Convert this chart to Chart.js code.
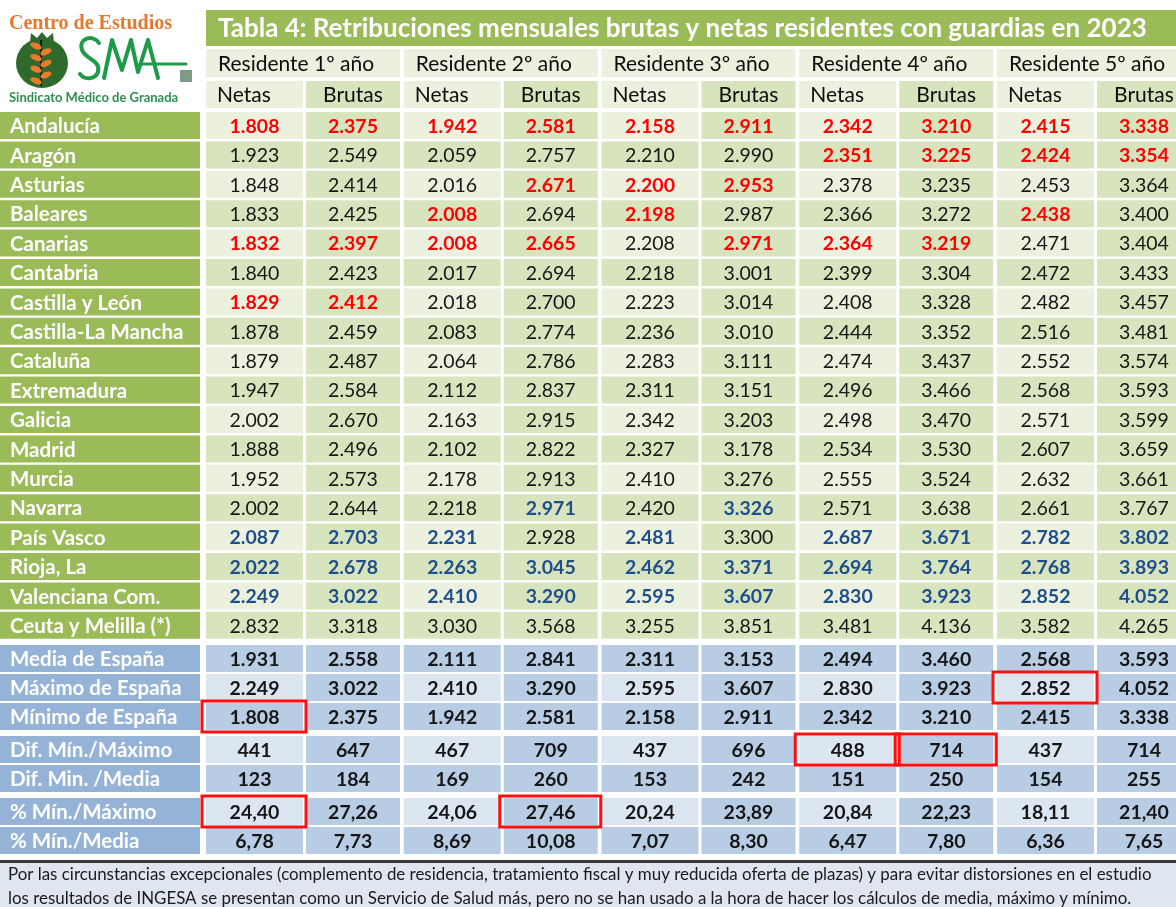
<!DOCTYPE html>
<html lang="es">
<head>
<meta charset="utf-8">
<title>Tabla 4: Retribuciones mensuales residentes 2023</title>
<script src="https://cdn.jsdelivr.net/npm/chart.js@4.4.1/dist/chart.umd.min.js"></script>
<style>
  html, body { margin: 0; padding: 0; background: #fff; }
  #tabla { display: block; }
</style>
</head>
<body>
<canvas id="tabla" width="1176" height="907"></canvas>
<script>
const titulo = 'Tabla 4: Retribuciones mensuales brutas y netas residentes con guardias en 2023';
const anios = ['Residente 1º año', 'Residente 2º año', 'Residente 3º año', 'Residente 4º año', 'Residente 5º año'];
const tipos = ['Netas', 'Brutas'];
const regiones = ['Andalucía', 'Aragón', 'Asturias', 'Baleares', 'Canarias', 'Cantabria', 'Castilla y León',
  'Castilla-La Mancha', 'Cataluña', 'Extremadura', 'Galicia', 'Madrid', 'Murcia', 'Navarra', 'País Vasco',
  'Rioja, La', 'Valenciana Com.', 'Ceuta y Melilla (*)'];

const r1Netas  = [1808, 1923, 1848, 1833, 1832, 1840, 1829, 1878, 1879, 1947, 2002, 1888, 1952, 2002, 2087, 2022, 2249, 2832];
const r1Brutas = [2375, 2549, 2414, 2425, 2397, 2423, 2412, 2459, 2487, 2584, 2670, 2496, 2573, 2644, 2703, 2678, 3022, 3318];
const r2Netas  = [1942, 2059, 2016, 2008, 2008, 2017, 2018, 2083, 2064, 2112, 2163, 2102, 2178, 2218, 2231, 2263, 2410, 3030];
const r2Brutas = [2581, 2757, 2671, 2694, 2665, 2694, 2700, 2774, 2786, 2837, 2915, 2822, 2913, 2971, 2928, 3045, 3290, 3568];
const r3Netas  = [2158, 2210, 2200, 2198, 2208, 2218, 2223, 2236, 2283, 2311, 2342, 2327, 2410, 2420, 2481, 2462, 2595, 3255];
const r3Brutas = [2911, 2990, 2953, 2987, 2971, 3001, 3014, 3010, 3111, 3151, 3203, 3178, 3276, 3326, 3300, 3371, 3607, 3851];
const r4Netas  = [2342, 2351, 2378, 2366, 2364, 2399, 2408, 2444, 2474, 2496, 2498, 2534, 2555, 2571, 2687, 2694, 2830, 3481];
const r4Brutas = [3210, 3225, 3235, 3272, 3219, 3304, 3328, 3352, 3437, 3466, 3470, 3530, 3524, 3638, 3671, 3764, 3923, 4136];
const r5Netas  = [2415, 2424, 2453, 2438, 2471, 2472, 2482, 2516, 2552, 2568, 2571, 2607, 2632, 2661, 2782, 2768, 2852, 3582];
const r5Brutas = [3338, 3354, 3364, 3400, 3404, 3433, 3457, 3481, 3574, 3593, 3599, 3659, 3661, 3767, 3802, 3893, 4052, 4265];

const resumenEtiquetas = ['Media de España', 'Máximo de España', 'Mínimo de España', 'Dif. Mín./Máximo',
  'Dif. Min. /Media', '% Mín./Máximo', '% Mín./Media'];
const mediaEspana  = [1931, 2558, 2111, 2841, 2311, 3153, 2494, 3460, 2568, 3593];
const maximoEspana = [2249, 3022, 2410, 3290, 2595, 3607, 2830, 3923, 2852, 4052];
const minimoEspana = [1808, 2375, 1942, 2581, 2158, 2911, 2342, 3210, 2415, 3338];
const difMinMax    = [441, 647, 467, 709, 437, 696, 488, 714, 437, 714];
const difMinMedia  = [123, 184, 169, 260, 153, 242, 151, 250, 154, 255];
const pctMinMax    = [24.40, 27.26, 24.06, 27.46, 20.24, 23.89, 20.84, 22.23, 18.11, 21.40];
const pctMinMedia  = [6.78, 7.73, 8.69, 10.08, 7.07, 8.30, 6.47, 7.80, 6.36, 7.65];

// celdas marcadas en rojo (minimos) y azul (maximos), indice de region por columna
const marcasRojas = [[0, 4, 6], [0, 4, 6], [0, 3, 4], [0, 2, 4], [0, 2, 3], [0, 2, 4], [0, 1, 4], [0, 1, 4], [0, 1, 3], [0, 1]];
const marcasAzules = [[14, 15, 16], [14, 15, 16], [14, 15, 16], [13, 15, 16], [14, 15, 16], [13, 15, 16], [14, 15, 16], [14, 15, 16], [14, 15, 16], [14, 15, 16]];
// recuadros rojos: [fila del resumen, columna]
const recuadros = [[2, 0], [5, 0], [5, 3], [1, 8], [3, 6], [3, 7]];

const nota = [
  'Por las circunstancias excepcionales (complemento de residencia, tratamiento fiscal y muy reducida oferta de plazas) y para evitar distorsiones en el estudio',
  'los resultados de INGESA se presentan como un Servicio de Salud más, pero no se han usado a la hora de hacer los cálculos de media, máximo y mínimo.'
];

const columnas = [r1Netas, r1Brutas, r2Netas, r2Brutas, r3Netas, r3Brutas, r4Netas, r4Brutas, r5Netas, r5Brutas];
const resumen = [mediaEspana, maximoEspana, minimoEspana, difMinMax, difMinMedia, pctMinMax, pctMinMedia];

// --- maqueta ---
const W = 1176, H = 907;
const FAM = 'Lato, "Open Sans", "DejaVu Sans", sans-serif';
const VERDE = '#9bbb59', VERDE_CLARO = '#ebf1de', VERDE_MEDIO = '#d7e4bd';
const AZUL = '#95b3d7', AZUL_CLARO = '#dce6f1', AZUL_MEDIO = '#b8cce4';
const ROJO = '#ff0000', AZUL_TEXTO = '#1f4e8c', NEGRO = '#161616';

const RANGO_ETIQUETA = [0, 200];
const RANGO_TITULO = [206, 1176];
const RANGO_NOTA = [0, 1176];
const FILA_TITULO = [10, 46], FILA_ANIO = [49, 77], FILA_TIPO = [81, 108];
const LINEA_NOTA = [860, 863], FILA_NOTA = [863, 907];

function rangoColumna(k) {
  const s = 206 + 197.75 * Math.floor(k / 2);
  return k % 2 ? [s + 100, s + 194] : [s, s + 97];
}
function rangoGrupo(g) {
  const s = 206 + 197.75 * g;
  return [s, s + 194];
}
function filaRegion(i) {
  const t = 112 + 29.4 * i;
  return [t, t + 27];
}
function filaResumen(i) {
  const t = 645 + 29 * i + (i > 2 ? 4 : 0) + (i > 4 ? 4 : 0);
  return [t, t + 27];
}
function celda(xr, yr) {
  return { x: (xr[0] + xr[1]) / 2, y: [yr[0], yr[1]] };
}
function fmtMiles(v) {
  return String(v).replace(/\B(?=(\d{3})+(?!\d))/g, '.');
}
function fmtPct(v) {
  return v.toFixed(2).replace('.', ',');
}

function serie(xr, props) {
  return Object.assign({
    type: 'bar',
    grouped: false,
    barThickness: xr[1] - xr[0],
    borderWidth: 0,
    borderSkipped: false,
    inflateAmount: 0
  }, props);
}

const datasets = [];

datasets.push(serie(RANGO_TITULO, {
  label: 'titulo',
  data: [celda(RANGO_TITULO, FILA_TITULO)],
  backgroundColor: VERDE,
  textos: [titulo], fuentes: ['bold 26px ' + FAM], colores: ['#ffffff'], alineaciones: ['left'], margen: 12
}));

datasets.push(serie(rangoGrupo(0), {
  label: 'anios',
  data: anios.map((a, g) => celda(rangoGrupo(g), FILA_ANIO)),
  backgroundColor: VERDE_CLARO,
  textos: anios,
  fuentes: anios.map(() => '21px ' + FAM),
  colores: anios.map(() => '#0d0d0d'),
  alineaciones: anios.map(() => 'left'), margen: 12
}));

const etiquetas = regiones.concat(resumenEtiquetas);
datasets.push(serie(RANGO_ETIQUETA, {
  label: 'etiquetas',
  data: regiones.map((r, i) => celda(RANGO_ETIQUETA, filaRegion(i)))
    .concat(resumenEtiquetas.map((r, i) => celda(RANGO_ETIQUETA, filaResumen(i)))),
  backgroundColor: etiquetas.map((e, i) => i < regiones.length ? VERDE : AZUL),
  textos: etiquetas,
  fuentes: etiquetas.map(() => 'bold 20.5px ' + FAM),
  colores: etiquetas.map(() => '#ffffff'),
  alineaciones: etiquetas.map(() => 'left'), margen: 10
}));

columnas.forEach((vals, k) => {
  const xr = rangoColumna(k);
  const netas = k % 2 === 0;
  const data = [celda(xr, FILA_TIPO)];
  const fondos = [netas ? VERDE_CLARO : VERDE_MEDIO];
  const textos = [tipos[k % 2]];
  const fuentes = ['21px ' + FAM];
  const colores = ['#0d0d0d'];
  const alineaciones = [netas ? 'left' : 'center'];
  vals.forEach((v, i) => {
    const rojo = marcasRojas[k].includes(i);
    const azul = marcasAzules[k].includes(i);
    data.push(celda(xr, filaRegion(i)));
    fondos.push(netas && i % 2 === 0 ? VERDE_CLARO : VERDE_MEDIO);
    textos.push(fmtMiles(v));
    fuentes.push((rojo || azul ? 'bold ' : '') + '19.5px ' + FAM);
    colores.push(rojo ? ROJO : azul ? AZUL_TEXTO : NEGRO);
    alineaciones.push('center');
  });
  resumen.forEach((fila, i) => {
    data.push(celda(xr, filaResumen(i)));
    fondos.push(netas && i % 2 === 1 ? AZUL_CLARO : AZUL_MEDIO);
    textos.push(i >= 5 ? fmtPct(fila[k]) : fmtMiles(fila[k]));
    fuentes.push('bold 19.5px ' + FAM);
    colores.push(NEGRO);
    alineaciones.push('center');
  });
  datasets.push(serie(xr, {
    label: anios[Math.floor(k / 2)] + ' ' + tipos[k % 2],
    data, backgroundColor: fondos,
    textos, fuentes, colores, alineaciones, margen: 11, columna: k
  }));
});

datasets.push(serie(RANGO_NOTA, {
  label: 'linea',
  data: [celda(RANGO_NOTA, LINEA_NOTA)],
  backgroundColor: '#3a3a3a'
}));
datasets.push(serie(RANGO_NOTA, {
  label: 'nota',
  data: [celda(RANGO_NOTA, FILA_NOTA)],
  backgroundColor: '#dfe6ef',
  textos: [nota], fuentes: ['16.9px ' + FAM], colores: ['#1a1a1a'], alineaciones: ['left'], margen: 8,
  interlinea: 24, desplazY: 1, anchoMax: 1146
}));

// --- plugins de dibujo ---
const logoPlugin = {
  id: 'logo',
  beforeDatasetsDraw(chart) {
    const ctx = chart.ctx;
    ctx.save();
    ctx.fillStyle = '#e8782e';
    ctx.font = 'bold 20px "Liberation Serif", "DejaVu Serif", serif';
    ctx.textBaseline = 'alphabetic';
    ctx.fillText('Centro de Estudios', 9, 29, 187);

    // granada
    ctx.fillStyle = '#2f6a2c';
    ctx.beginPath();
    ctx.ellipse(42, 63, 26, 25, 0, 0, Math.PI * 2);
    ctx.fill();
    ctx.beginPath();
    ctx.moveTo(30, 43); ctx.lineTo(31, 33); ctx.lineTo(37, 38); ctx.lineTo(42, 32);
    ctx.lineTo(47, 38); ctx.lineTo(53, 33); ctx.lineTo(54, 43);
    ctx.closePath();
    ctx.fill();
    ctx.strokeStyle = '#1a1a1a';
    ctx.lineWidth = 2;
    ctx.beginPath(); ctx.moveTo(41, 40); ctx.lineTo(41, 86); ctx.stroke();
    ctx.fillStyle = '#ec7a2c';
    for (let i = 0; i < 7; i++) {
      const yy = 46 + i * 5.8;
      const xx = 41 + (i % 2 ? 5 : -5);
      ctx.beginPath();
      ctx.ellipse(xx, yy, 6, 3, i % 2 ? -0.4 : 0.4, 0, Math.PI * 2);
      ctx.fill();
    }

    // SMA
    ctx.strokeStyle = '#1f9a48';
    ctx.lineWidth = 4;
    ctx.lineJoin = 'round';
    ctx.lineCap = 'round';
    ctx.beginPath();
    ctx.moveTo(99, 43);
    ctx.bezierCurveTo(93, 34, 78, 38, 82, 50);
    ctx.bezierCurveTo(86, 60, 101, 60, 98, 72);
    ctx.bezierCurveTo(95, 80, 84, 80, 80, 74);
    ctx.stroke();
    ctx.beginPath();
    ctx.moveTo(104, 78); ctx.lineTo(112, 40); ctx.lineTo(122, 70); ctx.lineTo(131, 40);
    ctx.lineTo(138, 72); ctx.lineTo(148, 40); ctx.lineTo(158, 78);
    ctx.stroke();
    ctx.lineWidth = 3;
    ctx.beginPath(); ctx.moveTo(142, 64); ctx.lineTo(186, 64); ctx.stroke();
    ctx.fillStyle = '#7f9a86';
    ctx.fillRect(180, 70, 12, 12);

    ctx.fillStyle = '#2f8f50';
    ctx.font = 'bold 13px ' + FAM;
    ctx.fillText('Sindicato Médico de Granada', 9, 102, 187);
    ctx.restore();
  }
};

function cajaDe(el) {
  const { x, y, base, width } = el.getProps(['x', 'y', 'base', 'width'], true);
  return { izq: x - width / 2, der: x + width / 2, sup: Math.min(y, base), inf: Math.max(y, base) };
}

const textosPlugin = {
  id: 'textosCeldas',
  afterDatasetsDraw(chart) {
    const ctx = chart.ctx;
    ctx.save();
    chart.data.datasets.forEach((ds, di) => {
      if (!ds.textos) return;
      const meta = chart.getDatasetMeta(di);
      meta.data.forEach((el, j) => {
        const c = cajaDe(el);
        const alin = ds.alineaciones[j];
        ctx.font = ds.fuentes[j];
        ctx.fillStyle = ds.colores[j];
        ctx.textAlign = alin;
        ctx.textBaseline = 'middle';
        const tx = alin === 'left' ? c.izq + ds.margen : (c.izq + c.der) / 2;
        const lineas = Array.isArray(ds.textos[j]) ? ds.textos[j] : [ds.textos[j]];
        const inter = ds.interlinea || 0;
        const cy = (c.sup + c.inf) / 2 + (ds.desplazY || 0) - inter * (lineas.length - 1) / 2 + 1;
        lineas.forEach((t, n) => {
          if (ds.anchoMax) ctx.fillText(t, tx, cy + n * inter, ds.anchoMax);
          else ctx.fillText(t, tx, cy + n * inter);
        });
      });
    });
    ctx.restore();
  }
};

const recuadrosPlugin = {
  id: 'recuadros',
  afterDatasetsDraw(chart) {
    const ctx = chart.ctx;
    ctx.save();
    ctx.strokeStyle = '#ff1010';
    ctx.lineWidth = 3;
    recuadros.forEach(([fila, col]) => {
      const di = chart.data.datasets.findIndex(d => d.columna === col);
      const el = chart.getDatasetMeta(di).data[1 + regiones.length + fila];
      const c = cajaDe(el);
      ctx.strokeRect(c.izq - 4, c.sup - 2, c.der - c.izq + 7, c.inf - c.sup + 4);
    });
    ctx.restore();
  }
};

new Chart(document.getElementById('tabla'), {
  type: 'bar',
  data: { datasets },
  options: {
    responsive: false,
    animation: false,
    devicePixelRatio: 1,
    events: [],
    layout: { padding: 0 },
    scales: {
      x: { type: 'linear', min: 0, max: W, display: false, offset: false },
      y: { type: 'linear', min: 0, max: H, reverse: true, display: false }
    },
    plugins: {
      legend: { display: false },
      tooltip: { enabled: false },
      title: { display: false }
    }
  },
  plugins: [logoPlugin, textosPlugin, recuadrosPlugin]
});
</script>
</body>
</html>
